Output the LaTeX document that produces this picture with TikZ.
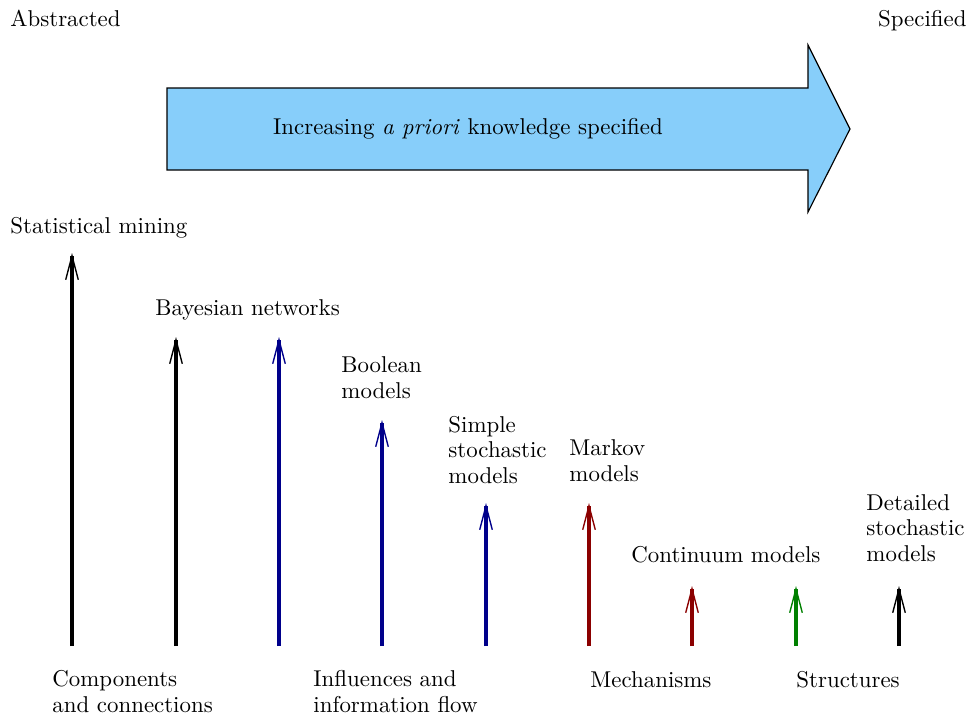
\documentclass[tikz,border=0pt]{standalone}
\usetikzlibrary{arrows.meta}
\definecolor{skyfill}{RGB}{135,206,250}
\definecolor{dblue}{RGB}{0,0,139}
\definecolor{dred}{RGB}{139,0,0}
\definecolor{dgreen}{RGB}{0,128,0}
\begin{document}
\begin{tikzpicture}[x=0.437pt,y=-0.437pt,
  lab/.style={anchor=base west,inner sep=0pt,align=left,font=\fontsize{10}{11}\selectfont},
  bar/.style={line width=1.8pt,-{Straight Barb[length=10.5pt,width=5.5pt,line width=0.6pt]}},
  bigarrow/.style={draw=black,line width=0.5pt,fill=skyfill}]
\useasboundingbox (0,0) rectangle (969,719);

% top labels
\node[lab] (abs) at (10,26) {Abstracted};
\node[lab,anchor=base east] (spec) at (967,26) {Specified};

% big arrow
\coordinate (b1) at (167,88);
\coordinate (b2) at (808,88);
\coordinate (h1) at (808,45);
\coordinate (tip) at (850,129);
\coordinate (h2) at (808,212);
\coordinate (b3) at (808,170);
\coordinate (b4) at (167,170);
\draw[bigarrow] (b1) -- (b2) -- (h1) -- (tip) -- (h2) -- (b3) -- (b4) -- cycle;
\node[inner sep=0pt,anchor=base] (know) at (468,134) {Increasing \emph{a priori} knowledge specified};

% vertical arrows
\foreach \n/\x/\t/\c in {1/72/253/black,2/176/337/black,3/279/337/dblue,4/382/420/dblue,5/486/503/dblue,6/589/503/dred,7/692/586/dred,8/796/586/dgreen,9/899/586/black}{
  \coordinate (s\n) at (\x,646);
  \coordinate (e\n) at (\x,\t);
  \draw[bar,\c] (s\n) -- (e\n);
}

% model labels (base = last line)
\node[lab] (stat) at (10,233) {Statistical mining};
\node[lab] (bayes) at (155,315) {Bayesian networks};
\node[lab] (bool) at (341,398) {Boolean\\models};
\node[lab] (simple) at (448,483) {Simple\\stochastic\\models};
\node[lab] (markov) at (569,481) {Markov\\models};
\node[lab] (cont) at (631,562) {Continuum models};
\node[lab] (det) at (866,561) {Detailed\\stochastic\\models};

% bottom labels
\node[lab] (comp) at (52,712) {Components\\and connections};
\node[lab] (infl) at (313,712) {Influences and\\information flow};
\node[lab] (mech) at (590,687) {Mechanisms};
\node[lab] (struc) at (796,687) {Structures};
\end{tikzpicture}
\end{document}
